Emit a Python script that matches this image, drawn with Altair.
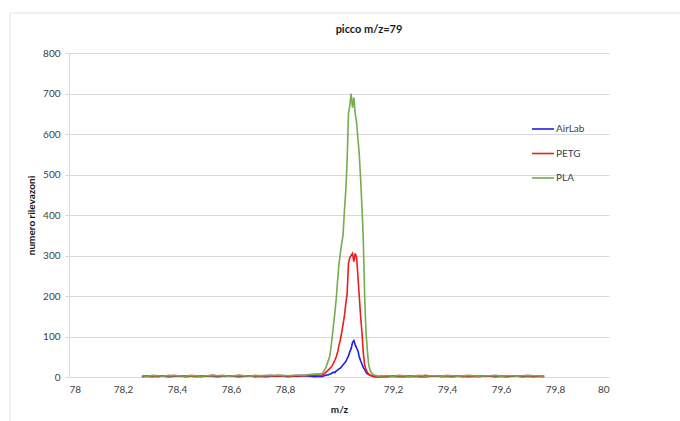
import altair as alt
import numpy as np
import pandas as pd

series_names = ["AirLab", "PETG", "PLA"]
series_colors = ["#1f1fe6", "#ee1c1c", "#73ad4c"]
series_widths = [1.6, 1.6, 1.1]

# m/z positions: sparse baseline on both sides, dense sampling over the peak
mz_left = [round(v, 3) for v in np.arange(78.27, 78.9301, 0.02)]
mz_peak = [round(v, 3) for v in np.arange(78.935, 79.1451, 0.005)]
mz_right = [round(v, 3) for v in np.arange(79.16, 79.7601, 0.02)]

# counts (numero rilevazioni)
airlab_left = [1,2,1,3,2,1,2,3,1,2,2,1,3,2,1,2,3,2,1,2,3,1,2,1,2,2,3,1,2,2,3,2,1,2]
petg_left = [2,3,2,1,3,2,4,2,3,2,1,3,2,4,3,2,3,2,4,2,3,2,2,3,4,2,3,3,2,3,4,3,5,4]
pla_left = [3,2,4,3,2,4,3,3,2,4,3,2,3,4,3,4,2,3,4,3,2,4,3,4,3,5,4,3,4,5,4,6,7,8]

airlab_peak = [1,2,3,4,5,5,7,8,10,12,11,15,17,20,22,26,30,34,38,45,52,62,70,85,90,
               80,72,65,50,40,32,24,18,12,8,6,4,3,2,1,1,1,0]
petg_peak = [4,6,8,11,14,17,20,24,28,35,42,50,62,78,92,110,130,150,180,205,280,295,300,305,285,
             305,295,250,200,150,110,60,30,18,12,7,5,3,2,2,1,1,1]
pla_peak = [8,10,15,22,30,40,50,70,100,130,160,195,240,280,305,330,350,410,460,530,650,670,700,665,690,
            650,630,590,550,490,420,340,200,110,65,30,17,10,7,5,4,3,2]

airlab_right = [1,1,2,1,2,1,2,1,1,2,3,1,2,1,2,2,1,2,1,3,2,1,2,1,2,2,1,2,1,2,1]
petg_right = [2,2,3,2,1,3,2,2,4,2,3,2,2,3,2,1,3,2,2,3,2,3,2,2,3,2,3,2,3,2,2]
pla_right = [3,3,2,4,3,2,3,4,2,3,3,2,4,3,2,3,4,3,2,3,3,4,2,3,3,2,3,4,3,3,2]

x_ticks = [78, 78.2, 78.4, 78.6, 78.8, 79, 79.2, 79.4, 79.6, 79.8, 80]
y_ticks = [0, 100, 200, 300, 400, 500, 600, 700, 800]

mz_all = mz_left + mz_peak + mz_right
vals = {
    "AirLab": airlab_left + airlab_peak + airlab_right,
    "PETG": petg_left + petg_peak + petg_right,
    "PLA": pla_left + pla_peak + pla_right,
}
rows = []
for order, name in enumerate(series_names):
    for m, v in zip(mz_all, vals[name]):
        rows.append({"mz": m, "count": v, "serie": name, "ord": order})
df = pd.DataFrame(rows)

FONT = "Lato"
GRID = "#d9d9d9"

lines = alt.Chart(df).mark_line(interpolate="linear").encode(
    x=alt.X("mz:Q", scale=alt.Scale(domain=[78, 80], nice=False, zero=False),
            axis=alt.Axis(values=x_ticks, title="m/z", grid=False,
                          labelExpr="replace(format(datum.value, '.4~r'), '.', ',')",
                          ticks=False, domain=True, domainColor=GRID,
                          labelPadding=7, titlePadding=10)),
    y=alt.Y("count:Q", scale=alt.Scale(domain=[0, 800], nice=False),
            axis=alt.Axis(values=y_ticks, title="numero rilevazoni", grid=True,
                          gridColor=GRID, ticks=True, tickSize=4, tickColor=GRID,
                          domain=True, domainColor=GRID, labelPadding=5,
                          titlePadding=6)),
    color=alt.Color("serie:N", scale=alt.Scale(domain=series_names, range=series_colors),
                    legend=alt.Legend(title=None, orient="none", legendX=462, legendY=64,
                                      symbolType="stroke", symbolSize=484,
                                      symbolStrokeWidth=1.5, labelFontSize=10,
                                      labelColor="#404040", labelFont=FONT,
                                      rowPadding=7.5, labelOffset=1)),
    strokeWidth=alt.StrokeWidth("serie:N", scale=alt.Scale(domain=series_names, range=series_widths),
                                legend=None),
    order=alt.Order("ord:Q"),
    detail="serie:N",
)

frame = alt.Chart(pd.DataFrame({"a": [0]})).mark_rect(
    fill="transparent", stroke="#e3e3e3", strokeWidth=1
).encode(x=alt.value(-59), x2=alt.value(720), y=alt.value(-40), y2=alt.value(460))

chart = alt.layer(frame, lines).properties(
    width=540, height=324,
    padding={"left": 69, "top": 53, "right": 71, "bottom": 44},
    autosize=alt.AutoSizeParams(type="none"),
    title=alt.TitleParams("picco m/z=79", fontSize=11, font=FONT, fontWeight="bold",
                          color="#1a1a1a", anchor="middle", frame="group", dx=30, offset=-22),
).configure_axis(
    labelFont=FONT, labelFontSize=10, labelColor="#404040",
    titleFont=FONT, titleFontSize=10, titleFontWeight="bold", titleColor="#1a1a1a",
).configure_view(stroke=None)

chart.save("out.html", embed_options={"renderer": "svg", "actions": False})
